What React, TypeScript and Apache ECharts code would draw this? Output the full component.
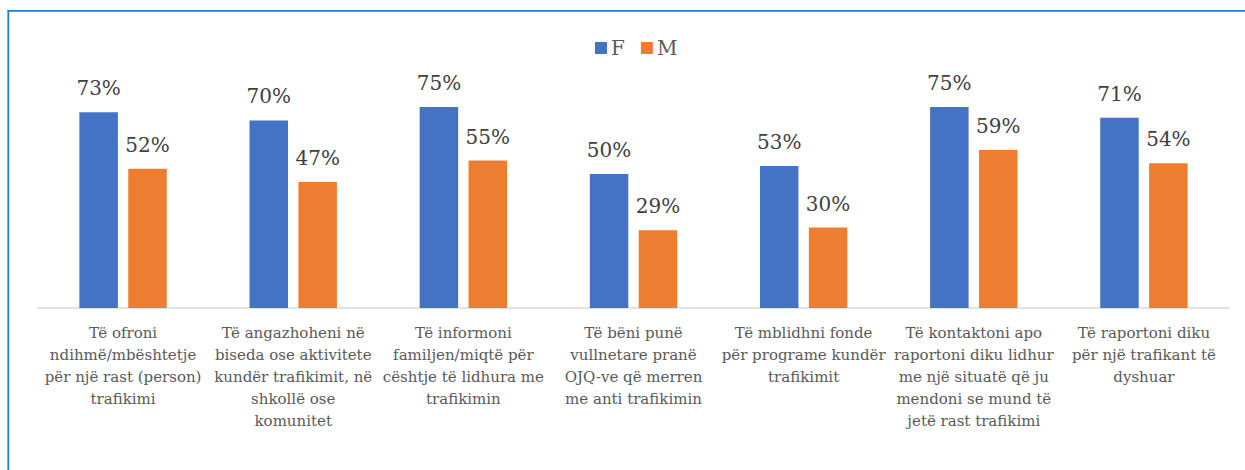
import React, { useEffect, useRef } from "react";
import * as echarts from "echarts";

const categories = [
  "Të ofroni\nndihmë/mbështetje\npër një rast (person)\ntrafikimi",
  "Të angazhoheni në\nbiseda ose aktivitete\nkundër trafikimit, në\nshkollë ose\nkomunitet",
  "Të informoni\nfamiljen/miqtë për\ncështje të lidhura me\ntrafikimin",
  "Të bëni punë\nvullnetare pranë\nOJQ-ve që merren\nme anti trafikimin",
  "Të mblidhni fonde\npër programe kundër\ntrafikimit",
  "Të kontaktoni apo\nraportoni diku lidhur\nme një situatë që ju\nmendoni se mund të\njetë rast trafikimi",
  "Të raportoni diku\npër një trafikant të\ndyshuar",
];
const seriesNames = ["F", "M"];
const valuesF = [73, 70, 75, 50, 53, 75, 71];
const valuesM = [52, 47, 55, 29, 30, 59, 54];

const FONT = "'DejaVu Serif', serif";

export default function App() {
  const ref = useRef<HTMLDivElement>(null);
  useEffect(() => {
    if (!ref.current) return;
    const chart = echarts.init(ref.current, null, { renderer: "svg" });
    const label = {
      show: true,
      position: "top" as const,
      distance: 14,
      formatter: "{c}%",
      color: "#404040",
      fontSize: 20,
      fontFamily: FONT,
    };
    chart.setOption({
      animation: false,
      backgroundColor: "#ffffff",
      textStyle: { fontFamily: FONT },
      graphic: [
        {
          type: "line",
          shape: { x1: 7.5, y1: 10.8, x2: 1245, y2: 10.8 },
          style: { stroke: "#1681d6", lineWidth: 1.8 },
          silent: true,
        },
        {
          type: "line",
          shape: { x1: 8.3, y1: 10, x2: 8.3, y2: 470 },
          style: { stroke: "#1681d6", lineWidth: 1.8 },
          silent: true,
        },
      ],
      legend: {
        data: seriesNames,
        left: 595,
        top: 38,
        padding: 0,
        itemWidth: 12,
        itemHeight: 12,
        itemGap: 16,
        icon: "rect",
        textStyle: { color: "#595959", fontSize: 20, fontFamily: FONT, padding: [0, 0, 0, -1] },
      },
      grid: { left: 38, right: 16, top: 40, bottom: 162, containLabel: false },
      xAxis: {
        type: "category",
        data: categories,
        axisTick: { show: false },
        axisLine: { show: true, lineStyle: { color: "#d9d9d9", width: 1.5 } },
        axisLabel: {
          interval: 0,
          margin: 14,
          color: "#595959",
          fontSize: 15,
          lineHeight: 22,
          fontFamily: FONT,
          align: "center",
        },
      },
      yAxis: {
        type: "value",
        min: 0,
        max: 100,
        show: false,
        splitLine: { show: false },
      },
      series: [
        {
          name: seriesNames[0],
          type: "bar",
          data: valuesF,
          barWidth: 38.5,
          barGap: "27%",
          itemStyle: { color: "#4472c4" },
          label,
        },
        {
          name: seriesNames[1],
          type: "bar",
          data: valuesM,
          barWidth: 38.5,
          itemStyle: { color: "#ed7d31" },
          label,
        },
      ],
    });
    return () => chart.dispose();
  }, []);
  return (
    <div
      ref={ref}
      style={{ position: "fixed", left: 0, top: 0, width: 1245, height: 470 }}
    />
  );
}
